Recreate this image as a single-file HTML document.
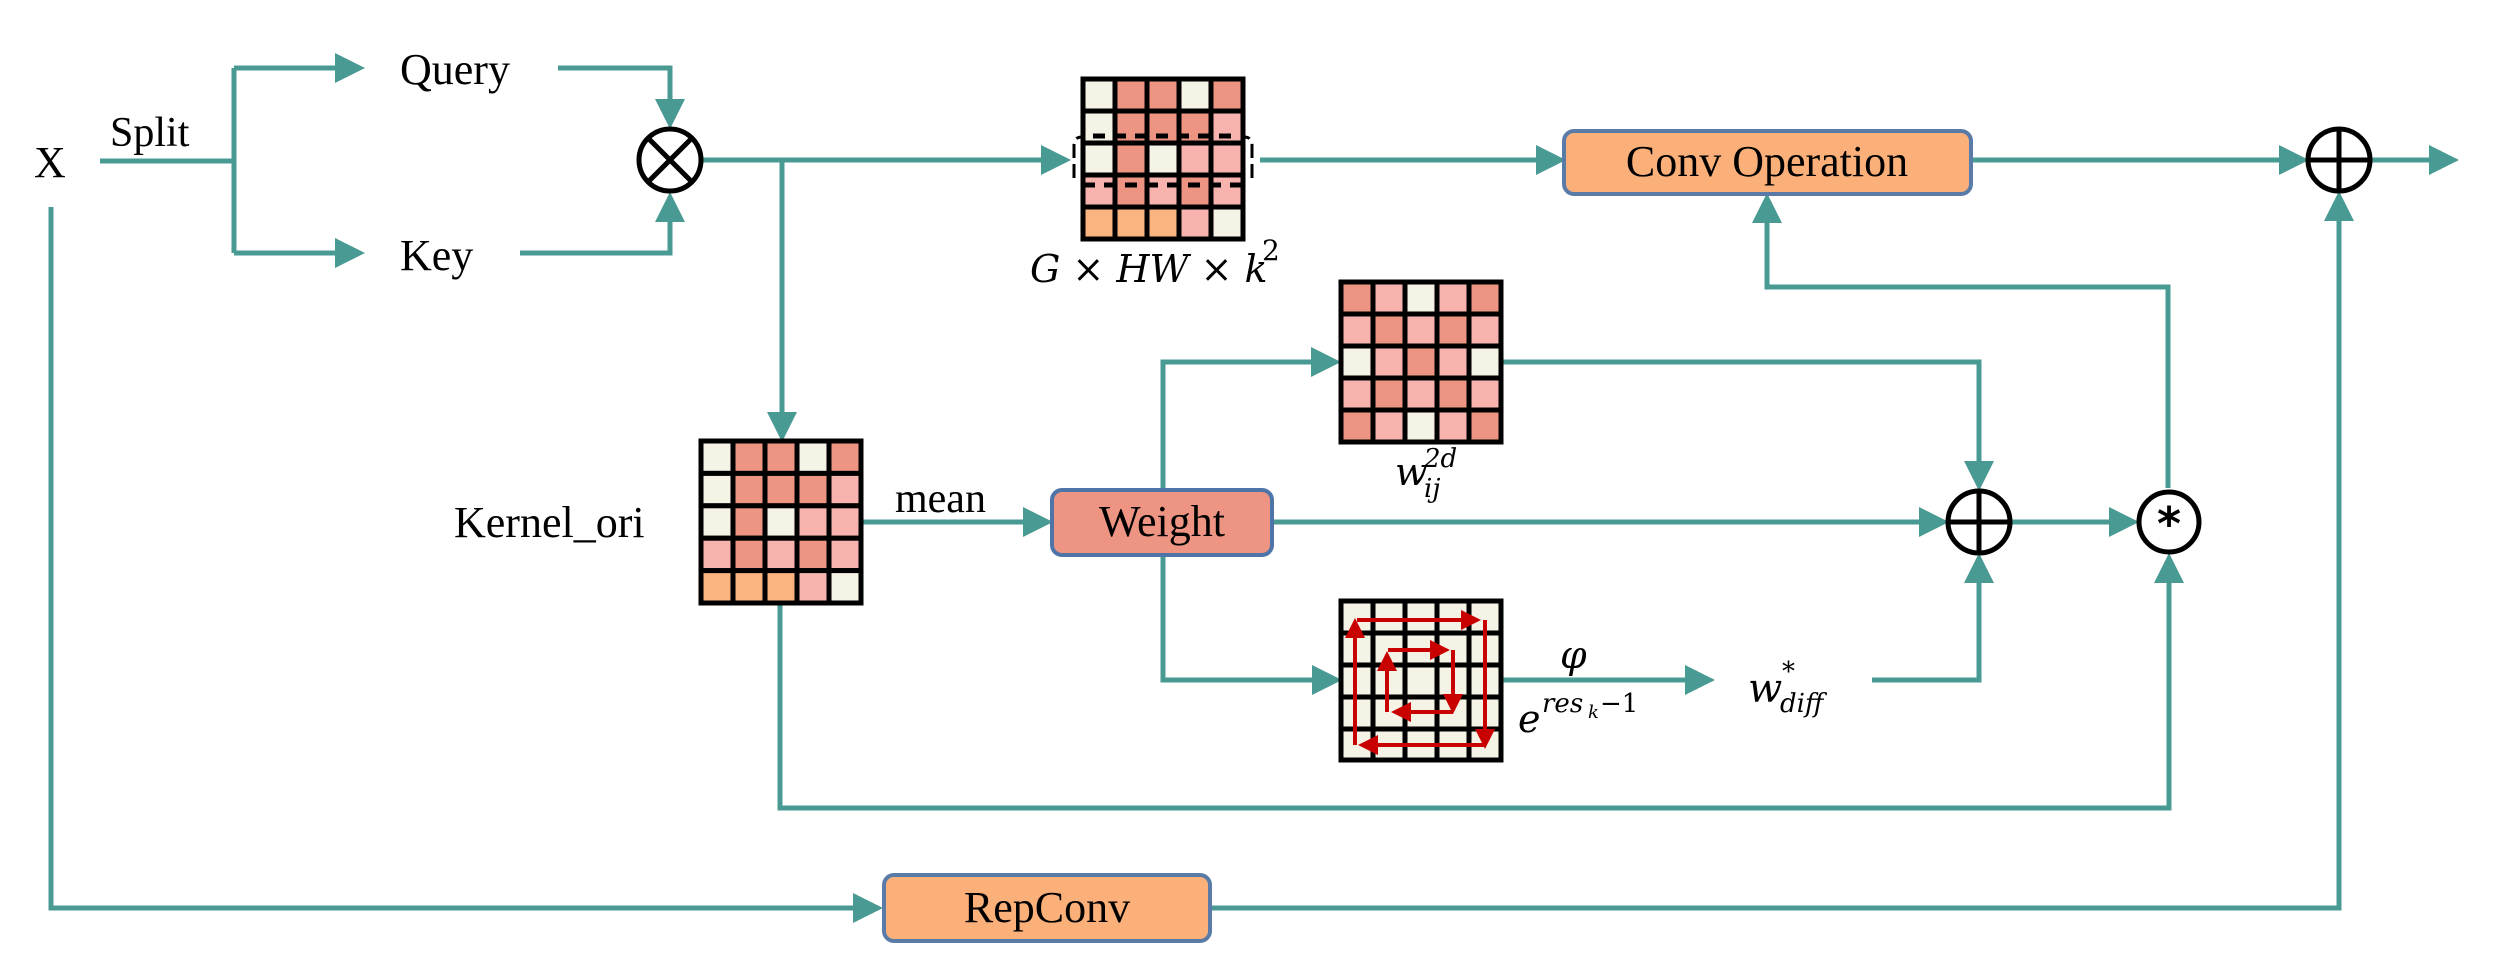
<!DOCTYPE html>
<html><head><meta charset="utf-8"><style>
html,body{margin:0;padding:0;background:#fff;}
svg{display:block;}
text{font-family:"Liberation Serif",serif;fill:#000;}
.m{font-family:"DejaVu Serif","Liberation Serif",serif;font-style:italic;}
</style></head><body>
<svg width="2496" height="978" viewBox="0 0 2496 978" xmlns="http://www.w3.org/2000/svg">
<defs>
<marker id="a" markerWidth="6" markerHeight="6" refX="5" refY="3" orient="auto" markerUnits="strokeWidth">
<path d="M0,0 L6,3 L0,6 Z" fill="#4A9A94"/>
</marker>
<marker id="r" markerWidth="5" markerHeight="5" refX="4" refY="2.5" orient="auto" markerUnits="strokeWidth">
<path d="M0,0 L5,2.5 L0,5 Z" fill="#C80000"/>
</marker>
</defs>
<g fill="none" stroke="#4A9A94" stroke-width="5">
<path d="M100,161 H234 M234,68 V253"/>
<path d="M234,68 H360" marker-end="url(#a)"/>
<path d="M234,253 H360" marker-end="url(#a)"/>
<path d="M558,68 H670 V124" marker-end="url(#a)"/>
<path d="M520,253 H670 V197" marker-end="url(#a)"/>
<path d="M702,160 H1066" marker-end="url(#a)"/>
<path d="M782,160 V437" marker-end="url(#a)"/>
<path d="M1260,160 H1561" marker-end="url(#a)"/>
<path d="M1971,160 H2304" marker-end="url(#a)"/>
<path d="M2371,160 H2454" marker-end="url(#a)"/>
<path d="M862,522 H1048" marker-end="url(#a)"/>
<path d="M1273,522 H1944" marker-end="url(#a)"/>
<path d="M2011,522 H2134" marker-end="url(#a)"/>
<path d="M1163,490 V362 H1336" marker-end="url(#a)"/>
<path d="M1502,362 H1979 V486" marker-end="url(#a)"/>
<path d="M1163,555 V680 H1337" marker-end="url(#a)"/>
<path d="M1502,680 H1710" marker-end="url(#a)"/>
<path d="M1872,680 H1979 V558" marker-end="url(#a)"/>
<path d="M780,603 V808 H2169 V558" marker-end="url(#a)"/>
<path d="M2168,488 V287 H1767 V198" marker-end="url(#a)"/>
<path d="M51,207 V908 H878" marker-end="url(#a)"/>
<path d="M1210,908 H2339 V196" marker-end="url(#a)"/>
</g>
<g fill="#fff" stroke="#000" stroke-width="5">
<circle cx="670" cy="160" r="31"/>
<path d="M648,138 L692,182 M692,138 L648,182"/>
<circle cx="2339" cy="160" r="31"/>
<path d="M2308,160 H2370 M2339,129 V191"/>
<circle cx="1979" cy="522" r="31"/>
<path d="M1948,522 H2010 M1979,491 V553"/>
<circle cx="2169" cy="522" r="30"/>
</g>
<text x="2169" y="540" font-size="46" text-anchor="middle" font-weight="bold" style="font-family:'DejaVu Sans',sans-serif">*</text>
<text x="34" y="177" font-size="44">X</text>
<text x="110" y="146" font-size="42">Split</text>
<text x="400" y="84" font-size="44">Query</text>
<text x="400" y="270" font-size="44">Key</text>
<text x="454" y="537" font-size="44">Kernel_ori</text>
<text x="895" y="512" font-size="42">mean</text>
<g stroke="#000" stroke-width="5">
<g transform="translate(1083,79)">
<rect x="0" y="0" width="32" height="32" fill="#F5F2E6"/><rect x="32" y="0" width="32" height="32" fill="#EE9483"/><rect x="64" y="0" width="32" height="32" fill="#EE9483"/><rect x="96" y="0" width="32" height="32" fill="#F5F2E6"/><rect x="128" y="0" width="32" height="32" fill="#EE9483"/>
<rect x="0" y="32" width="32" height="32" fill="#F5F2E6"/><rect x="32" y="32" width="32" height="32" fill="#EE9483"/><rect x="64" y="32" width="32" height="32" fill="#EE9483"/><rect x="96" y="32" width="32" height="32" fill="#EE9483"/><rect x="128" y="32" width="32" height="32" fill="#F9B3AE"/>
<rect x="0" y="64" width="32" height="32" fill="#F5F2E6"/><rect x="32" y="64" width="32" height="32" fill="#EE9483"/><rect x="64" y="64" width="32" height="32" fill="#F5F2E6"/><rect x="96" y="64" width="32" height="32" fill="#F9B3AE"/><rect x="128" y="64" width="32" height="32" fill="#F9B3AE"/>
<rect x="0" y="96" width="32" height="32" fill="#F9B3AE"/><rect x="32" y="96" width="32" height="32" fill="#EE9483"/><rect x="64" y="96" width="32" height="32" fill="#F9B3AE"/><rect x="96" y="96" width="32" height="32" fill="#EE9483"/><rect x="128" y="96" width="32" height="32" fill="#F9B3AE"/>
<rect x="0" y="128" width="32" height="32" fill="#F9B47F"/><rect x="32" y="128" width="32" height="32" fill="#F9B47F"/><rect x="64" y="128" width="32" height="32" fill="#F9B47F"/><rect x="96" y="128" width="32" height="32" fill="#F9B3AE"/><rect x="128" y="128" width="32" height="32" fill="#F5F2E6"/>
</g>
<path d="M1093,136 H1235 M1083,185 H1245" stroke-dasharray="12,9" fill="none"/>
<path d="M1074,178 V145 Q1074,137 1082,137 M1252,178 V145 Q1252,137 1244,137" fill="none" stroke-width="3" stroke-dasharray="14,6"/>
<g transform="translate(701,441)">
<rect x="0" y="0" width="32" height="32.4" fill="#F5F2E6"/><rect x="32" y="0" width="32" height="32.4" fill="#EE9483"/><rect x="64" y="0" width="32" height="32.4" fill="#EE9483"/><rect x="96" y="0" width="32" height="32.4" fill="#F5F2E6"/><rect x="128" y="0" width="32" height="32.4" fill="#EE9483"/>
<rect x="0" y="32.4" width="32" height="32.4" fill="#F5F2E6"/><rect x="32" y="32.4" width="32" height="32.4" fill="#EE9483"/><rect x="64" y="32.4" width="32" height="32.4" fill="#EE9483"/><rect x="96" y="32.4" width="32" height="32.4" fill="#EE9483"/><rect x="128" y="32.4" width="32" height="32.4" fill="#F9B3AE"/>
<rect x="0" y="64.8" width="32" height="32.4" fill="#F5F2E6"/><rect x="32" y="64.8" width="32" height="32.4" fill="#EE9483"/><rect x="64" y="64.8" width="32" height="32.4" fill="#F5F2E6"/><rect x="96" y="64.8" width="32" height="32.4" fill="#F9B3AE"/><rect x="128" y="64.8" width="32" height="32.4" fill="#F9B3AE"/>
<rect x="0" y="97.2" width="32" height="32.4" fill="#F9B3AE"/><rect x="32" y="97.2" width="32" height="32.4" fill="#EE9483"/><rect x="64" y="97.2" width="32" height="32.4" fill="#F9B3AE"/><rect x="96" y="97.2" width="32" height="32.4" fill="#EE9483"/><rect x="128" y="97.2" width="32" height="32.4" fill="#F9B3AE"/>
<rect x="0" y="129.6" width="32" height="32.4" fill="#F9B47F"/><rect x="32" y="129.6" width="32" height="32.4" fill="#F9B47F"/><rect x="64" y="129.6" width="32" height="32.4" fill="#F9B47F"/><rect x="96" y="129.6" width="32" height="32.4" fill="#F9B3AE"/><rect x="128" y="129.6" width="32" height="32.4" fill="#F5F2E6"/>
</g>
<g transform="translate(1341,282)">
<rect x="0" y="0" width="32" height="32" fill="#EE9483"/><rect x="32" y="0" width="32" height="32" fill="#F9B3AE"/><rect x="64" y="0" width="32" height="32" fill="#F5F2E6"/><rect x="96" y="0" width="32" height="32" fill="#F9B3AE"/><rect x="128" y="0" width="32" height="32" fill="#EE9483"/>
<rect x="0" y="32" width="32" height="32" fill="#F9B3AE"/><rect x="32" y="32" width="32" height="32" fill="#EE9483"/><rect x="64" y="32" width="32" height="32" fill="#F9B3AE"/><rect x="96" y="32" width="32" height="32" fill="#EE9483"/><rect x="128" y="32" width="32" height="32" fill="#F9B3AE"/>
<rect x="0" y="64" width="32" height="32" fill="#F5F2E6"/><rect x="32" y="64" width="32" height="32" fill="#F9B3AE"/><rect x="64" y="64" width="32" height="32" fill="#EE9483"/><rect x="96" y="64" width="32" height="32" fill="#F9B3AE"/><rect x="128" y="64" width="32" height="32" fill="#F5F2E6"/>
<rect x="0" y="96" width="32" height="32" fill="#F9B3AE"/><rect x="32" y="96" width="32" height="32" fill="#EE9483"/><rect x="64" y="96" width="32" height="32" fill="#F9B3AE"/><rect x="96" y="96" width="32" height="32" fill="#EE9483"/><rect x="128" y="96" width="32" height="32" fill="#F9B3AE"/>
<rect x="0" y="128" width="32" height="32" fill="#EE9483"/><rect x="32" y="128" width="32" height="32" fill="#F9B3AE"/><rect x="64" y="128" width="32" height="32" fill="#F5F2E6"/><rect x="96" y="128" width="32" height="32" fill="#F9B3AE"/><rect x="128" y="128" width="32" height="32" fill="#EE9483"/>
</g>
<rect x="1341" y="601" width="160" height="159" fill="#F5F2E6"/>
<path d="M1373,601 V760 M1405,601 V760 M1437,601 V760 M1469,601 V760 M1341,633 H1501 M1341,665 H1501 M1341,697 H1501 M1341,729 H1501" fill="none"/>
</g>
<g fill="none" stroke="#C80000" stroke-width="4">
<path d="M1357,620 H1477" marker-end="url(#r)"/>
<path d="M1485,620 V745" marker-end="url(#r)"/>
<path d="M1485,745 H1362" marker-end="url(#r)"/>
<path d="M1355,745 V622" marker-end="url(#r)"/>
<path d="M1388,650 H1446" marker-end="url(#r)"/>
<path d="M1453,650 V710" marker-end="url(#r)"/>
<path d="M1453,712 H1395" marker-end="url(#r)"/>
<path d="M1387,712 V655" marker-end="url(#r)"/>
</g>
<rect x="1564" y="131" width="407" height="63" rx="10" fill="#FBB07A" stroke="#5A7BA8" stroke-width="4"/>
<text x="1767" y="176" font-size="44" text-anchor="middle">Conv Operation</text>
<rect x="1052" y="490" width="220" height="65" rx="10" fill="#EE9483" stroke="#4F74A8" stroke-width="4"/>
<text x="1162" y="536" font-size="44" text-anchor="middle">Weight</text>
<rect x="884" y="875" width="326" height="66" rx="10" fill="#FBB07A" stroke="#5A7BA8" stroke-width="4"/>
<text x="1047" y="922" font-size="44" text-anchor="middle">RepConv</text>
<text class="m" x="1030" y="282" font-size="38">G × HW × k</text>
<text x="1262" y="260" font-size="28" style="font-family:'DejaVu Serif',serif">2</text>
<text class="m" x="1395" y="485" font-size="38">w</text>
<text x="1424" y="467" font-size="26" style="font-family:'DejaVu Serif',serif;font-style:italic">2d</text>
<text class="m" x="1424" y="497" font-size="26">ij</text>
<text class="m" x="1560" y="668" font-size="38">φ</text>
<text class="m" x="1518" y="732" font-size="38">e</text>
<text class="m" x="1542" y="712" font-size="26">res</text>
<text class="m" x="1588" y="718" font-size="18">k</text>
<text x="1600" y="712" font-size="26" style="font-family:'DejaVu Serif',serif">−1</text>
<text class="m" x="1748" y="702" font-size="40">w</text>
<text x="1782" y="680" font-size="26" style="font-family:'DejaVu Serif',serif">*</text>
<text class="m" x="1780" y="712" font-size="26">diff</text>
</svg>
</body></html>
